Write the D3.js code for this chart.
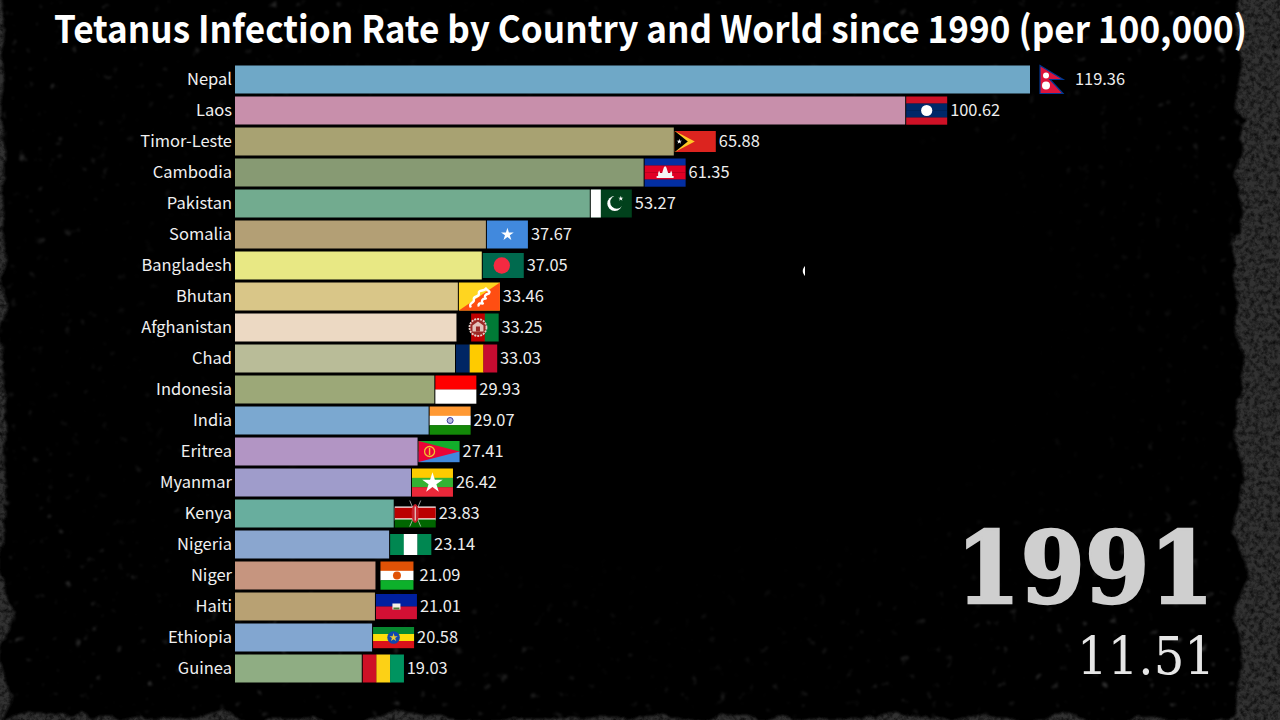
<!DOCTYPE html>
<html>
<head>
<meta charset="utf-8">
<title>Tetanus Infection Rate</title>
<script src="https://cdn.jsdelivr.net/npm/d3@7"></script>
<style>
  html, body { margin: 0; padding: 0; background: #000; overflow: hidden; }
  svg { display: block; }
</style>
</head>
<body>
<svg id="chart" width="1280" height="720"></svg>
<script>
var titleText = "Tetanus Infection Rate by Country and World since 1990 (per 100,000)";
var yearText = "1991";
var worldValue = 11.51;

var countries = ["Nepal", "Laos", "Timor-Leste", "Cambodia", "Pakistan", "Somalia", "Bangladesh", "Bhutan", "Afghanistan", "Chad",
                 "Indonesia", "India", "Eritrea", "Myanmar", "Kenya", "Nigeria", "Niger", "Haiti", "Ethiopia", "Guinea"];
var values = [119.36, 100.62, 65.88, 61.35, 53.27, 37.67, 37.05, 33.46, 33.25, 33.03,
              29.93, 29.07, 27.41, 26.42, 23.83, 23.14, 21.09, 21.01, 20.58, 19.03];
var barColors = ["#6fa8c7", "#c88fab", "#a8a272", "#879a73", "#72ab8f", "#b39f75", "#e8e884", "#d9c688", "#ecd9c3", "#b9bc98",
                 "#9ca878", "#7ba8d0", "#b295c4", "#9f9ccb", "#68ae9e", "#8aa6cf", "#c6957f", "#b8a173", "#82a6d0", "#8fad83"];

var svg = d3.select("#chart");
var defs = svg.append("defs");

var x = d3.scaleLinear().domain([0, d3.max(values)]).range([235, 1030]);
var y = d3.scaleBand().domain(countries).range([65.5, 682.5]).paddingInner(3 / 31).paddingOuter(0);
var color = d3.scaleOrdinal().domain(countries).range(barColors);

// squeeze a text horizontally so it spans the given width around cx
function fitText(sel, cx, baseline, width) {
  var len = sel.node().getComputedTextLength();
  sel.attr("text-anchor", "middle")
     .attr("transform", "translate(" + cx + "," + baseline + ") scale(" + (width / len) + ",1)");
}

// ---- grunge background
// torn edge from a displacement map, then eaten away by soft grain
var rough = defs.append("filter").attr("id", "rough")
    .attr("x", "-5%").attr("y", "-5%").attr("width", "110%").attr("height", "110%");
rough.append("feTurbulence").attr("type", "fractalNoise").attr("baseFrequency", 0.022)
    .attr("numOctaves", 6).attr("seed", 7).attr("result", "n");
rough.append("feDisplacementMap").attr("in", "SourceGraphic").attr("in2", "n")
    .attr("scale", 26).attr("xChannelSelector", "R").attr("yChannelSelector", "G").attr("result", "torn");
rough.append("feGaussianBlur").attr("in", "torn").attr("stdDeviation", 1).attr("result", "soft");
rough.append("feTurbulence").attr("type", "fractalNoise").attr("baseFrequency", 0.22)
    .attr("numOctaves", 4).attr("seed", 3);
rough.append("feColorMatrix").attr("type", "matrix")
    .attr("values", "0 0 0 0 1  0 0 0 0 1  0 0 0 0 1  0 0 0 1.5 0.05").attr("result", "grain");
rough.append("feComposite").attr("in", "soft").attr("in2", "grain").attr("operator", "in");

var speck = defs.append("filter").attr("id", "speck")
    .attr("x", 0).attr("y", 0).attr("width", "100%").attr("height", "100%");
speck.append("feTurbulence").attr("type", "fractalNoise").attr("baseFrequency", 0.11)
    .attr("numOctaves", 3).attr("seed", 11);
speck.append("feColorMatrix").attr("type", "matrix")
    .attr("values", "0 0 0 0 1  0 0 0 0 1  0 0 0 0 1  3.2 3.2 0 0 -4.1");
speck.append("feGaussianBlur").attr("stdDeviation", 0.8);

// specks only near the edges, centre of the backdrop stays clean
var fade = defs.append("radialGradient").attr("id", "fade").attr("cx", "50%").attr("cy", "45%").attr("r", "62%");
fade.append("stop").attr("offset", "50%").attr("stop-color", "#000");
fade.append("stop").attr("offset", "100%").attr("stop-color", "#fff");
defs.append("mask").attr("id", "edgeMask")
    .append("rect").attr("width", 1280).attr("height", 720).attr("fill", "url(#fade)");

var bg = svg.append("g");
bg.append("rect").attr("width", 1280).attr("height", 720).attr("fill", "#000");
bg.append("g").attr("mask", "url(#edgeMask)")
  .append("rect").attr("width", 1280).attr("height", 720).attr("filter", "url(#speck)").attr("opacity", 0.2);

var edges = bg.append("g").attr("filter", "url(#rough)").attr("fill", "#303030");
edges.append("rect").attr("x", -40).attr("y", -40).attr("width", 44).attr("height", 800);
edges.append("rect").attr("x", 1239).attr("y", -40).attr("width", 90).attr("height", 800);
edges.append("rect").attr("x", -40).attr("y", 718).attr("width", 1360).attr("height", 30);

// ---- title
svg.append("text")
    .attr("font-family", "'Noto Sans CJK SC'")
    .attr("font-weight", 700)
    .attr("font-size", 38)
    .attr("fill", "#fff")
    .text(titleText)
    .call(fitText, 650.5, 43, 1193);

// ---- bars
svg.append("g").selectAll("rect").data(countries).join("rect")
    .attr("x", x(0))
    .attr("y", function(d) { return y(d); })
    .attr("width", function(d, i) { return x(values[i]) - x(0); })
    .attr("height", y.bandwidth())
    .attr("fill", function(d) { return color(d); });

// ---- country labels
svg.append("g").selectAll("text").data(countries).join("text")
    .attr("x", 232)
    .attr("y", function(d) { return y(d) + y.bandwidth() / 2; })
    .attr("dy", "0.33em")
    .attr("text-anchor", "end")
    .attr("font-family", "'Noto Sans CJK SC'")
    .attr("font-size", 16.5)
    .attr("fill", "#f0f0f0")
    .text(function(d) { return d; });

// ---- flags
function hStripes(g, w, h, cols) {
  cols.forEach(function(c, i) {
    g.append("rect").attr("y", i * h / cols.length).attr("width", w).attr("height", h / cols.length + 0.2).attr("fill", c);
  });
}
function vStripes(g, w, h, cols) {
  cols.forEach(function(c, i) {
    g.append("rect").attr("x", i * w / cols.length).attr("width", w / cols.length + 0.2).attr("height", h).attr("fill", c);
  });
}
function disc(g, cx, cy, r, c) {
  g.append("circle").attr("cx", cx).attr("cy", cy).attr("r", r).attr("fill", c);
}
function star(g, cx, cy, size, c) {
  g.append("path").attr("d", d3.symbol(d3.symbolStar, size)())
    .attr("transform", "translate(" + cx + "," + cy + ")").attr("fill", c);
}

var flagSpec = {
  "Nepal": { gap: 10, w: 24, h: 28, after: 11, draw: function(g) {
    g.append("path").attr("d", "M0,0L23,14H10L23,28H0Z").attr("fill", "#dc143c").attr("stroke", "#003893").attr("stroke-width", 1.2);
    disc(g, 6, 10, 3, "#fff");
    disc(g, 6, 20, 4, "#fff");
  }},
  "Laos": { draw: function(g, w, h) {
    hStripes(g, w, h, ["#ce1126", "#002868", "#002868", "#ce1126"]);
    disc(g, w / 2, h / 2, 5.6, "#fff");
  }},
  "Timor-Leste": { h: 21, draw: function(g, w, h) {
    g.append("rect").attr("width", w).attr("height", h).attr("fill", "#dc241f");
    g.append("path").attr("d", "M0,0L20,10.5L0,21Z").attr("fill", "#ffc726");
    g.append("path").attr("d", "M0,0L13,10.5L0,21Z").attr("fill", "#000");
    star(g, 4.5, 10.5, 9, "#fff");
  }},
  "Cambodia": { draw: function(g, w, h) {
    hStripes(g, w, h, ["#032ea1", "#e00025", "#e00025", "#032ea1"]);
    g.append("path").attr("d", "M12,19.5V17.5H13.5V14.5L14.5,12L15.5,14.5H17.5L19.2,9L20.5,7.5L21.8,9L23.5,14.5H25.5L26.5,12L27.5,14.5V17.5H29V19.5Z").attr("fill", "#f4f4f4");
  }},
  "Pakistan": { draw: function(g, w, h) {
    g.append("rect").attr("width", w).attr("height", h).attr("fill", "#01411c");
    g.append("rect").attr("width", 10).attr("height", h).attr("fill", "#fff");
    disc(g, 24, 14, 7.5, "#fff");
    disc(g, 26, 12.6, 6.6, "#01411c");
    star(g, 30, 9, 8, "#fff");
  }},
  "Somalia": { draw: function(g, w, h) {
    g.append("rect").attr("width", w).attr("height", h).attr("fill", "#4189dd");
    star(g, w / 2, h / 2, 50, "#fff");
  }},
  "Bangladesh": { h: 25, draw: function(g, w, h) {
    g.append("rect").attr("width", w).attr("height", h).attr("fill", "#006a4e");
    disc(g, 19, h / 2, 8.2, "#f42a41");
  }},
  "Bhutan": { draw: function(g, w, h) {
    g.append("rect").attr("width", w).attr("height", h).attr("fill", "#ffd520");
    g.append("path").attr("d", "M41,0V28H0Z").attr("fill", "#ff4e12");
    // dragon, drawn as a thick wavy stroke
    g.append("path").attr("d", "M12,25C9,20 16,21 15,17C14,13 21,15 20,11C19,7 26,9 27,6C29,9 32,8 30,11C26,12 25,14 27,16C23,16 22,19 24,21C20,20 19,22 20,24")
      .attr("fill", "none").attr("stroke", "#fff").attr("stroke-width", 2.4).attr("stroke-linejoin", "round");
  }},
  "Afghanistan": { draw: function(g, w, h) {
    vStripes(g, w, h, ["#000", "#be0000", "#007a36"]);
    g.append("circle").attr("cx", w / 2).attr("cy", h / 2).attr("r", 8.5).attr("fill", "#9c2a26")
      .attr("stroke", "#e6cfc8").attr("stroke-width", 1.8).attr("stroke-dasharray", "2 1");
    g.append("path").attr("d", "M15,18V12L20.5,8L26,12V18Z").attr("fill", "#e4c4bc");
    g.append("rect").attr("x", 18.5).attr("y", 13).attr("width", 4).attr("height", 5).attr("fill", "#9c2a26");
  }},
  "Chad": { draw: function(g, w, h) { vStripes(g, w, h, ["#002664", "#fecb00", "#c60c30"]); }},
  "Indonesia": { draw: function(g, w, h) { hStripes(g, w, h, ["#ff0000", "#fff"]); }},
  "India": { draw: function(g, w, h) {
    hStripes(g, w, h, ["#ff9933", "#fff", "#138808"]);
    g.append("circle").attr("cx", w / 2).attr("cy", h / 2).attr("r", 3).attr("fill", "#b9b9e2")
      .attr("stroke", "#3a3a9a").attr("stroke-width", 1);
  }},
  "Eritrea": { h: 21, draw: function(g, w, h) {
    hStripes(g, w, h, ["#12ad2b", "#4189dd"]);
    g.append("path").attr("d", "M0,0L41,10.5L0,21Z").attr("fill", "#ea0437");
    g.append("circle").attr("cx", 11).attr("cy", 10.5).attr("r", 5).attr("fill", "none").attr("stroke", "#f2c230").attr("stroke-width", 1.3);
    g.append("rect").attr("x", 10.3).attr("y", 7).attr("width", 1.4).attr("height", 7).attr("fill", "#f2c230");
  }},
  "Myanmar": { draw: function(g, w, h) {
    hStripes(g, w, h, ["#fecb00", "#34b233", "#ea2839"]);
    star(g, w / 2, h / 2 + 0.5, 130, "#fff");
  }},
  "Kenya": { draw: function(g, w, h) {
    // black stripe melts into the backdrop
    g.append("rect").attr("width", w).attr("height", 7).attr("fill", "#000");
    g.append("rect").attr("y", 7).attr("width", w).attr("height", 14).attr("fill", "#fff");
    g.append("rect").attr("y", 8.2).attr("width", w).attr("height", 10.6).attr("fill", "#bb0000");
    g.append("rect").attr("y", 20).attr("width", w).attr("height", 8).attr("fill", "#006600");
    g.append("path").attr("d", "M15,1L26,27M26,1L15,27").attr("stroke", "#ddd").attr("stroke-width", 0.7);
    g.append("ellipse").attr("cx", w / 2).attr("cy", h / 2).attr("rx", 3.6).attr("ry", 9.5).attr("fill", "#c8202a");
    g.append("rect").attr("x", w / 2 - 0.5).attr("y", h / 2 - 7).attr("width", 1).attr("height", 14).attr("fill", "#eee");
  }},
  "Nigeria": { h: 21, draw: function(g, w, h) { vStripes(g, w, h, ["#008751", "#fff", "#008751"]); }},
  "Niger": { gap: 5, w: 33, after: 6, draw: function(g, w, h) {
    hStripes(g, w, h, ["#e05206", "#fff", "#0db02b"]);
    disc(g, w / 2, h / 2, 4, "#e05206");
  }},
  "Haiti": { h: 25, draw: function(g, w, h) {
    hStripes(g, w, h, ["#00209f", "#d21034"]);
    g.append("rect").attr("x", w / 2 - 4).attr("y", h / 2 - 3).attr("width", 8).attr("height", 6).attr("fill", "#f4f0e6");
    g.append("rect").attr("x", w / 2 - 3).attr("y", h / 2 + 1).attr("width", 6).attr("height", 2).attr("fill", "#4c7a3a");
  }},
  "Ethiopia": { h: 21, draw: function(g, w, h) {
    hStripes(g, w, h, ["#078930", "#fcdd09", "#da121a"]);
    disc(g, w / 2, h / 2, 6.3, "#0f47af");
    star(g, w / 2, h / 2, 22, "#e7c93a");
  }},
  "Guinea": { draw: function(g, w, h) { vStripes(g, w, h, ["#ce1126", "#fcd116", "#009460"]); }}
};

countries.forEach(function(name, i) {
  var f = flagSpec[name],
      gap = f.gap === undefined ? 1 : f.gap,
      w = f.w || 41,
      h = f.h || 28,
      after = f.after === undefined ? 3 : f.after;

  var left = x(values[i]) + gap;
  var g = svg.append("g")
      .attr("transform", "translate(" + left + "," + (y(name) + (y.bandwidth() - h) / 2) + ")");
  f.draw(g, w, h);

  // value label sits right of the flag
  svg.append("text")
      .attr("x", left + w + after)
      .attr("y", y(name) + y.bandwidth() / 2)
      .attr("dy", "0.33em")
      .attr("font-family", "'Noto Sans CJK SC'")
      .attr("font-size", 16.4)
      .attr("fill", "#eeeeee")
      .text(values[i].toFixed(2));
});

// ---- year and world value
svg.append("text")
    .attr("font-family", "'DejaVu Serif'")
    .attr("font-weight", 700)
    .attr("font-size", 100)
    .attr("fill", "#cfcfcf")
    .attr("stroke", "#cfcfcf")
    .attr("stroke-width", 2.5)
    .text(yearText)
    .call(fitText, 1085, 603, 258);

svg.append("text")
    .attr("font-family", "'DejaVu Serif'")
    .attr("font-size", 53)
    .attr("fill", "#e6e6e6")
    .text(worldValue.toFixed(2))
    .call(fitText, 1146, 674, 138);

// little white scratch in the middle of the backdrop
svg.append("path").attr("d", "M805,266C802,269 802,273 805,276Z").attr("fill", "#fff");
</script>
</body>
</html>
